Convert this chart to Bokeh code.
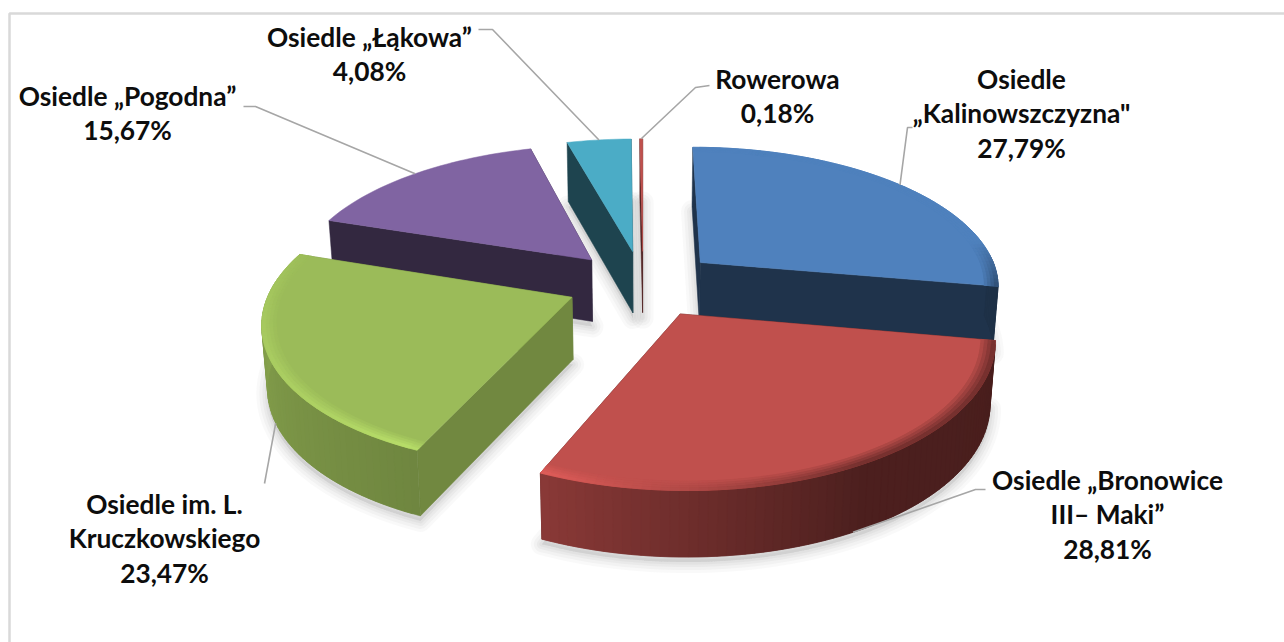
import numpy as np
from bokeh.core.properties import value
from bokeh.embed import file_html
from bokeh.models import ColumnDataSource
from bokeh.plotting import figure
from bokeh.resources import INLINE

# Shares of each housing estate, clockwise from twelve o'clock
categories = ["Kalinowszczyzna", "Bronowice", "Kruczkowskiego", "Pogodna", "Lakowa", "Rowerowa"]
shares = [27.79, 28.81, 23.47, 15.67, 4.08, 0.18]
share_labels = ["27,79%", "28,81%", "23,47%", "15,67%", "4,08%", "0,18%"]
name_lines = [
    ["Osiedle", "„Kalinowszczyzna\""],
    ["Osiedle „Bronowice", "III– Maki”"],
    ["Osiedle im. L.", "Kruczkowskiego"],
    ["Osiedle „Pogodna”"],
    ["Osiedle „Łąkowa”"],
    ["Rowerowa"],
]
top_colors = ["#4F81BD", "#C0504D", "#9BBB59", "#8064A2", "#4BACC6", "#C0504D"]

# Layout of the labels and the elbows of their leader lines
label_centers = [(1021, 78), (1107, 479), (164, 503), (127, 95), (369, 36), (777, 78)]
line_step = 34.5
leader_starts = [
    [(912, 127), (907, 127)],
    [(985, 489), (975, 489)],
    [(264, 483)],
    [(243, 106), (255, 106)],
    [(478, 29), (492, 29)],
    [(709, 85), (695, 87)],
]
wall_shade = [0.40, 0.40, 0.73, 0.40, 0.40, 0.42]

# Projection of the tilted pie
CX, CY, RX, RY, D, H = 642.5, 283.0, 300.0, 139.0, 6.5, 62.0
EXPLODE_U, EXPLODE_V = 0.255, 0.24
DRAW_ORDER = [5, 4, 3, 0, 2, 1]


def project(u, v, z=0.0):
    s = D / (D - v)
    x = CX + RX * u * s * (1 - 0.015 * z)
    y = CY + RY * v * s + z * H * (1 + 0.32 * (s - 1))
    return x, y


def hex_rgb(color):
    return np.array([int(color[i:i + 2], 16) for i in (1, 3, 5)], dtype=float)


def scaled(color, factor):
    rgb = np.clip(hex_rgb(color) * factor, 0, 255).astype(int)
    return "#%02x%02x%02x" % tuple(rgb)


def rim_shade(theta):
    return np.interp(theta, [100, 150, 203, 270], [0.38, 0.40, 0.72, 0.87])


def bevel_shade(theta):
    return np.interp(theta, [80, 100, 150, 175, 205, 225, 270, 295],
                     [1.0, 0.62, 0.62, 0.88, 1.18, 1.12, 1.06, 1.0])


edges = np.concatenate([[0], np.cumsum(shares)]) * 3.6
sweeps = list(zip(edges[:-1], edges[1:]))

shadow_xs, shadow_ys = [], []
xs, ys, fills = [], [], []


def add(points, color):
    xs.append([float(p[0]) for p in points])
    ys.append([float(p[1]) for p in points])
    fills.append(color)


anchors = {}
for i in DRAW_ORDER:
    a0, a1 = sweeps[i]
    mid = np.radians((a0 + a1) / 2)
    au, av = EXPLODE_U * np.sin(mid), -EXPLODE_V * np.cos(mid)
    color = top_colors[i]
    n = max(2, int((a1 - a0) / 1.5) + 1)
    thetas = np.linspace(a0, a1, n)
    rad = np.radians(thetas)
    # Each facet reaches over the next one so no seams show between them
    reach = np.append(rad[2:], [rad[-1]])

    def rim_point(t, r=1.0, z=0.0):
        return project(au + r * np.sin(t), av - r * np.cos(t), z)

    outline = [project(au, av)] + [rim_point(t) for t in rad]
    floor = [project(au, av, 1)] + [rim_point(t, 1, 1) for t in rad]
    shadow_xs.append([p[0] for p in floor])
    shadow_ys.append([p[1] + 5 for p in floor])

    # Cut walls, the rear one first
    walls = sorted([rad[0], rad[-1]], key=lambda t: -np.cos(t))
    for t in walls:
        add([project(au, av), rim_point(t), rim_point(t, 1, 1), project(au, av, 1)],
            scaled(color, wall_shade[i]))

    # Outer rim facets on the side facing the viewer
    for t0, t1, deg in zip(rad[:-1], reach, thetas[:-1]):
        if 85 <= deg <= 275:
            add([rim_point(t0), rim_point(t1), rim_point(t1, 1, 1), rim_point(t0, 1, 1)],
                scaled(color, rim_shade(deg)))

    # Top face, then the soft bevel along its curved edge
    add(outline, color)
    bands = [0.955, 0.966, 0.977, 0.988, 1.0]
    if i in (0, 1, 2):
        for b in range(len(bands) - 1):
            for t0, t1, deg in zip(rad[:-1], reach, thetas[:-1]):
                f = 1 + (bevel_shade(deg) - 1) * (b + 1) / (len(bands) - 1)
                add([rim_point(t0, bands[b]), rim_point(t1, bands[b]),
                     rim_point(t1, bands[b + 1]), rim_point(t0, bands[b + 1])],
                    scaled(color, f))

    front = np.cos(mid) < -0.3
    anchors[i] = rim_point(mid, 1, 1 if front else 0)

p = figure(width=1284, height=642, x_range=(0, 1284), y_range=(642, 0),
           output_backend="svg", toolbar_location=None, min_border=0,
           background_fill_color="white", border_fill_color="white")
p.xaxis.visible = False
p.yaxis.visible = False
p.grid.visible = False
p.outline_line_color = None

# Chart frame, open towards the page edges
p.line([1290, 9, 9], [13, 13, 650], line_color="#d9d9d9", line_width=2.5)

# Layered soft shadow under every slice
for width, alpha in [(22, 0.05), (16, 0.06), (10, 0.07), (5, 0.08)]:
    p.patches(shadow_xs, shadow_ys, fill_color="#8c8c8c", fill_alpha=0.05,
              line_color="#8c8c8c", line_alpha=alpha, line_width=width, line_join="round")

faces = ColumnDataSource(dict(xs=xs, ys=ys, color=fills))
p.patches("xs", "ys", source=faces, fill_color="color", line_color="color", line_width=0.5)

# Leader lines from labels to slices
for i, start in enumerate(leader_starts):
    path = start + [anchors[i]]
    p.line([q[0] for q in path], [q[1] for q in path], line_color="#a6a6a6", line_width=1.6)

# Labels: name lines followed by the share
tx, ty, tt = [], [], []
for (cx, cy), lines, share in zip(label_centers, name_lines, share_labels):
    for k, text in enumerate(lines + [share]):
        tx.append(cx)
        ty.append(cy + k * line_step)
        tt.append(text)
p.text(tx, ty, text=tt, text_font=value("Lato"), text_font_style="bold",
       text_font_size="26.3px", text_color="#0d0d0d",
       text_align="center", text_baseline="middle")

open("out.html", "w").write(file_html(p, INLINE))
